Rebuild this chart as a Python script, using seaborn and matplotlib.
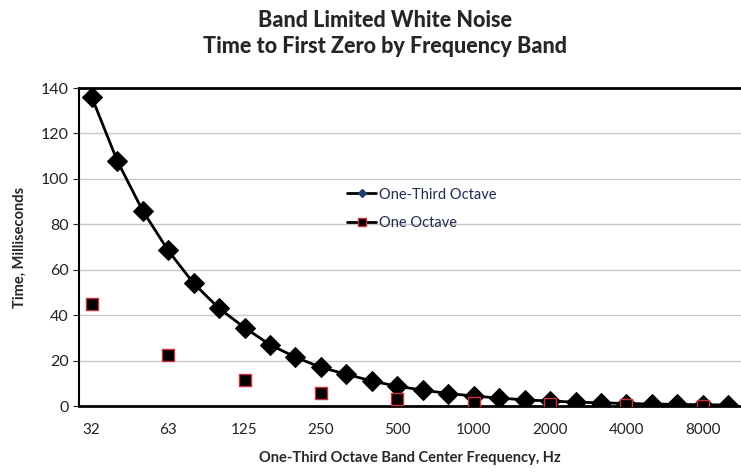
import numpy as np
import pandas as pd
import matplotlib
matplotlib.use("Agg")
import matplotlib.pyplot as plt
import seaborn as sns
from matplotlib.lines import Line2D

# one-third octave band centres, Hz
bands = ["32", "40", "50", "63", "80", "100", "125", "160", "200", "250", "315", "400", "500",
         "630", "800", "1000", "1250", "1600", "2000", "2500", "3150", "4000", "5000", "6300",
         "8000", "10000"]
third_octave = [136, 108, 86, 68.5, 54, 43, 34.5, 27, 21.5, 17, 14, 11, 8.7, 7, 5.5, 4.4,
                3.5, 2.7, 2.2, 1.7, 1.4, 1.1, 0.9, 0.7, 0.55, 0.45]
# one octave values at the octave bands only
octave_bands = ["32", "63", "125", "250", "500", "1000", "2000", "4000", "8000"]
one_octave = [45, 22.5, 11.5, 5.7, 3.0, 1.5, 0.8, 0.4, 0.2]
tick_labels = ["32", "63", "125", "250", "500", "1000", "2000", "4000", "8000"]

df3 = pd.DataFrame({"pos": range(len(bands)), "band": bands, "time": third_octave})
df1 = pd.DataFrame({"pos": [bands.index(b) for b in octave_bands], "time": one_octave})

sns.set_style("white")
plt.rcParams["font.family"] = ["Lato", "DejaVu Sans"]

fig = plt.figure(figsize=(7.41, 4.75), dpi=100)
ax = fig.add_axes([79 / 741, 1 - 406 / 475, 1 - 79 / 741, (406 - 88) / 475])

for v in range(20, 140, 20):
    ax.axhline(v, color="#c8c8c8", lw=1, zorder=0)

sns.lineplot(data=df3, x="pos", y="time", ax=ax, color="black", lw=2,
             marker="D", markersize=10, markeredgecolor="black", zorder=3)
sns.scatterplot(data=df1, x="pos", y="time", ax=ax, marker="s", s=80,
                color="black", edgecolor="#d0303a", linewidth=1, zorder=4)

ax.set_xlim(-0.5, 25.25)
ax.set_ylim(0, 140)
ax.set_yticks(range(0, 141, 20))
ax.set_xticks([bands.index(t) for t in tick_labels])
ax.set_xticklabels(tick_labels)
ax.set_xticks(np.arange(-0.5, 26, 1), minor=True)
ax.tick_params(axis="x", which="major", length=0, pad=12, labelsize=11, colors="#222222")
ax.tick_params(axis="x", which="minor", length=4, width=0.8, direction="inout", color="#555555")
ax.tick_params(axis="y", which="major", length=4, width=0.8, direction="out", left=True,
               labelsize=11.5, colors="#222222")

for s in ["left", "bottom", "top"]:
    ax.spines[s].set_color("black")
ax.spines["left"].set_linewidth(1.5)
ax.spines["bottom"].set_linewidth(2)
ax.spines["top"].set_linewidth(2)
ax.spines["right"].set_visible(False)

ax.set_xlabel("One-Third Octave Band Center Frequency, Hz", fontsize=10.5, fontweight="bold",
              labelpad=10)
ax.set_ylabel("Time, Milliseconds", fontsize=10.5, fontweight="bold", labelpad=10)

fig.text(0.52, 0.957, "Band Limited White Noise", ha="center", va="center",
         fontsize=15.5, fontweight="black")
fig.text(0.52, 0.902, "Time to First Zero by Frequency Band", ha="center", va="center",
         fontsize=15.5, fontweight="black")

handles = [
    Line2D([], [], color="black", lw=2, marker="D", markersize=4, markerfacecolor="#1f3f6f",
           markeredgecolor="#1f3f6f"),
    Line2D([], [], color="black", lw=2, marker="s", markersize=6, markerfacecolor="black",
           markeredgecolor="#d0303a"),
]
leg = ax.legend(handles, ["One-Third Octave", "One Octave"], loc="center left",
                bbox_to_anchor=(0.385, 0.62), frameon=False, fontsize=10.5, handlelength=2,
                handletextpad=0.2, labelspacing=1.0)
for t in leg.get_texts():
    t.set_color("#1f2a50")

fig.savefig("out.png", dpi=100)
